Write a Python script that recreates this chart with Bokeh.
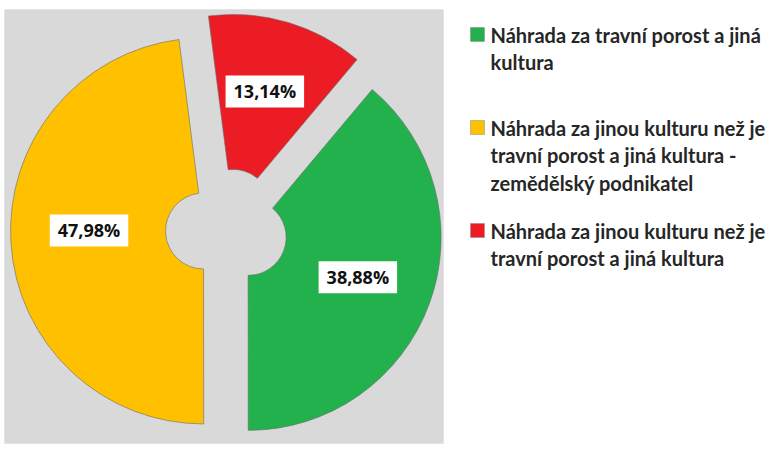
import math
from bokeh.plotting import figure
from bokeh.models import Range1d, Label, BoxAnnotation, ColumnDataSource
from bokeh.core.properties import value
from bokeh.embed import file_html
from bokeh.resources import INLINE

# ---- data ----
categories = [
    "Náhrada za travní porost a jiná kultura",
    "Náhrada za jinou kulturu než je travní porost a jiná kultura - zemědělský podnikatel",
    "Náhrada za jinou kulturu než je travní porost a jiná kultura",
]
shares = [38.88, 47.98, 13.14]
share_labels = ["38,88%", "47,98%", "13,14%"]
legend_lines = [
    ["Náhrada za travní porost a jiná", "kultura"],
    ["Náhrada za jinou kulturu než je", "travní porost a jiná kultura -", "zemědělský podnikatel"],
    ["Náhrada za jinou kulturu než je", "travní porost a jiná kultura"],
]
colors = ["#22b14c", "#ffc000", "#ec1c24"]

# ---- layout / style ----
W, H = 779, 458
def Y(py):
    return H - py

CX, CY = 226, Y(229)
R_OUT, R_IN = 193, 38
EXPLODE = 23
FIRST_ANGLE = 40.0   # clockwise from 12 o'clock
LABEL_FRAC = 0.605
LABEL_NUDGE = [(0, 0), (2, 8), (-1, 4)]  # pixel nudges (dx, dy up)
FONT = "Open Sans"
LEG_FONT = "Lato"

p = figure(width=W, height=H, output_backend="svg", toolbar_location=None,
           x_range=Range1d(0, W), y_range=Range1d(0, H),
           min_border=0, border_fill_color="white", background_fill_color="white")
p.axis.visible = False
p.grid.visible = False
p.outline_line_color = None

# gray chart panel
p.add_layout(BoxAnnotation(left=4, right=443, bottom=Y(443), top=Y(9),
                           fill_color="#d9d9d9", fill_alpha=1.0,
                           line_color="#cfcfcf", line_width=1, level="underlay"))

total = sum(shares)
theta = FIRST_ANGLE
xs, ys, sa, ea = [], [], [], []
lab_x, lab_y = [], []
for s, (ndx, ndy) in zip(shares, LABEL_NUDGE):
    span = 360.0 * s / total
    t1, t2 = theta, theta + span
    mid = math.radians((t1 + t2) / 2)
    cx = CX + EXPLODE * math.sin(mid)
    cy = CY + EXPLODE * math.cos(mid)
    xs.append(cx); ys.append(cy)
    sa.append(math.radians(90 - t2)); ea.append(math.radians(90 - t1))
    lab_x.append(cx + LABEL_FRAC * R_OUT * math.sin(mid) + ndx)
    lab_y.append(cy + LABEL_FRAC * R_OUT * math.cos(mid) + ndy)
    theta = t2

src = ColumnDataSource(dict(x=xs, y=ys, sa=sa, ea=ea, color=colors, cat=categories))
p.annular_wedge(x="x", y="y", inner_radius=R_IN, outer_radius=R_OUT,
                start_angle="sa", end_angle="ea", direction="anticlock",
                fill_color="color", line_color="#6d6d6d", line_alpha=0.6,
                line_width=1, source=src)

for lx, ly, t in zip(lab_x, lab_y, share_labels):
    p.add_layout(Label(x=lx, y=ly, text=t, text_align="center", text_baseline="middle",
                       text_font=FONT, text_font_style="bold", text_font_size="18px",
                       text_color="#111111", background_fill_color="white",
                       padding=(8, 4)))

# legend (manual, wrapped lines)
item_top = [34, 127, 230]
line_gap = 27.5
sq_x, txt_x = 477, 490
sq_xs, sq_ys = [], []
tx, ty, tt = [], [], []
for top, lines in zip(item_top, legend_lines):
    sq_xs.append(sq_x); sq_ys.append(Y(top))
    for i, ln in enumerate(lines):
        tx.append(txt_x); ty.append(Y(top + i * line_gap)); tt.append(ln)
p.scatter(x=sq_xs, y=sq_ys, marker="square", size=14, fill_color=colors,
          line_color="#8a8a8a", line_width=0.5)
p.text(x=tx, y=ty, text=tt, text_font=value(LEG_FONT), text_font_style="bold",
       text_font_size="20px", text_color="#262626", text_baseline="middle",
       text_align="left")

open("out.html", "w").write(file_html(p, INLINE))
